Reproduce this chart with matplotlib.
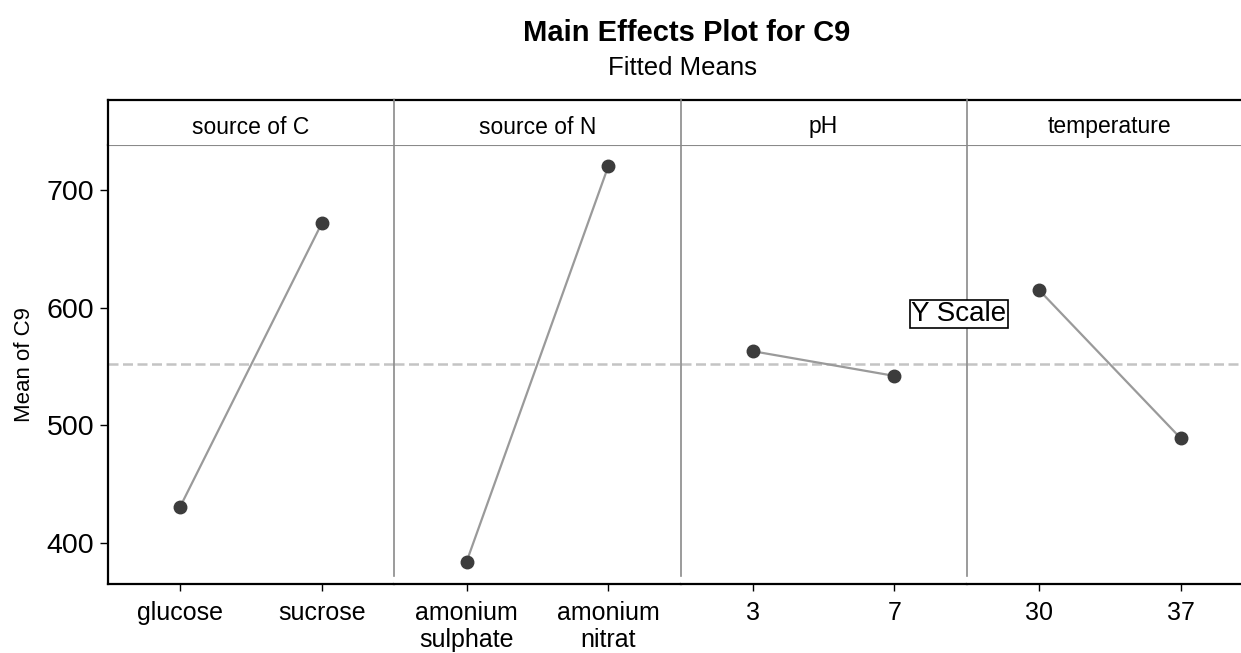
import matplotlib.pyplot as plt
from matplotlib.lines import Line2D

plt.rcParams['font.family'] = ['Liberation Sans', 'DejaVu Sans']

# factor names and levels
factors = ['source of C', 'source of N', 'pH', 'temperature']
levels = [['glucose', 'sucrose'],
          ['amonium\nsulphate', 'amonium\nnitrat'],
          ['3', '7'],
          ['30', '37']]
# fitted means
means_C = [431, 672]
means_N = [384, 720]
means_pH = [563, 542]
means_T = [615, 489]
all_means = [means_C, means_N, means_pH, means_T]
grand_mean = 552

W, H = 1241, 653
fig = plt.figure(figsize=(W / 100, H / 100), dpi=100)


def fx(px):
    return px / W


def fy(py):
    return 1 - py / H


left, right = 108, 1253
top_strip, top_data, bottom = 100, 145, 584
pw = (right - left) / 4
ylo, yhi = 365.2, 738.2

for i in range(4):
    x0 = left + i * pw
    ax = fig.add_axes([fx(x0), fy(bottom), pw / W, (bottom - top_data) / H])
    ax.plot([0, 1], all_means[i], color='#9a9a9a', lw=1.6, zorder=2)
    ax.plot([0, 1], all_means[i], 'o', color='#3c3c3c', ms=9, zorder=3)
    ax.axhline(grand_mean, color='#c4c4c4', lw=1.8, ls=(0, (4, 1.8)), zorder=1)
    ax.set_xlim(-0.51, 1.51)
    ax.set_ylim(ylo, yhi)
    ax.set_xticks([0, 1])
    ax.set_xticklabels(levels[i], fontsize=18, linespacing=1.15)
    ax.tick_params(axis='x', length=5, width=1, pad=7)
    for s in ['left', 'right']:
        ax.spines[s].set_visible(False)
    ax.spines['top'].set_color('#8a8a8a')
    ax.spines['bottom'].set_linewidth(1.6)
    if i == 0:
        ax.spines['left'].set_visible(True)
        ax.spines['left'].set_linewidth(1.6)
        ax.set_yticks([400, 500, 600, 700])
        ax.tick_params(axis='y', labelsize=20.5, length=6, width=1, pad=4)
        ax.set_ylabel('Mean of C9', fontsize=16)
        ax.yaxis.set_label_coords((35 - x0) / pw, 0.5)
    else:
        ax.set_yticks([])

    # strip
    sx = fig.add_axes([fx(x0), fy(top_data), pw / W, (top_data - top_strip) / H])
    sx.set_xticks([])
    sx.set_yticks([])
    for s in ['left', 'right', 'bottom']:
        sx.spines[s].set_visible(False)
    sx.spines['top'].set_linewidth(1.6)
    if i == 0:
        sx.spines['left'].set_visible(True)
        sx.spines['left'].set_linewidth(1.6)
    sx.text(0.5, 0.4, factors[i], ha='center', va='center', fontsize=16.5,
            transform=sx.transAxes)

    if i > 0:
        fig.add_artist(Line2D([fx(x0), fx(x0)], [fy(top_strip), fy(576)],
                              color='#8a8a8a', lw=1.2))

fig.text(fx(687), fy(33), 'Main Effects Plot for C9', ha='center', va='center',
         fontsize=21, fontweight='bold')
fig.text(fx(683), fy(68), 'Fitted Means', ha='center', va='center', fontsize=18.5)
fig.text(fx(959), fy(314), 'Y Scale', ha='center', va='center', fontsize=20,
         bbox=dict(boxstyle='square,pad=0.05', fc='white', ec='black', lw=1.2))

fig.savefig('out.png', dpi=100)
